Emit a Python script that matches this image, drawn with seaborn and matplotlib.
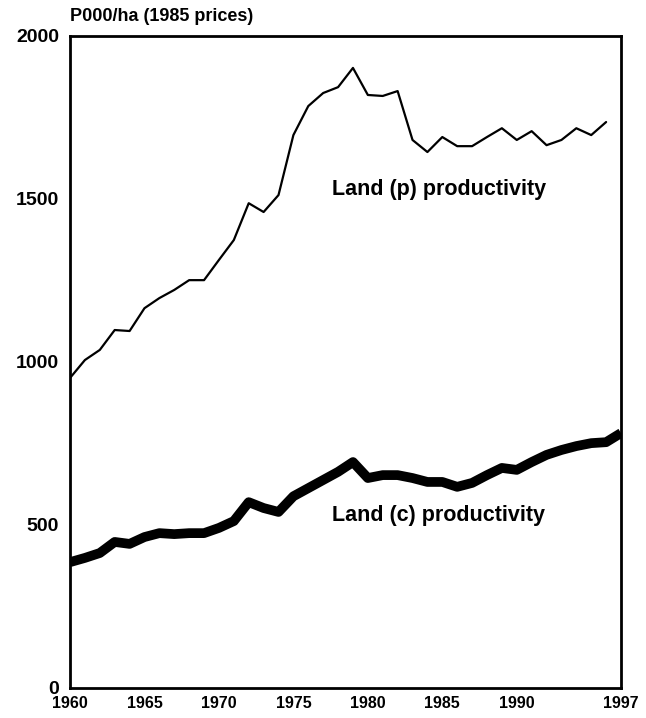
import pandas as pd
import seaborn as sns
import matplotlib.pyplot as plt

years = list(range(1960, 1998))

# land productivity, P000/ha at 1985 prices
land_p = [951, 1006, 1037, 1098, 1095, 1165, 1196, 1221, 1251, 1251,
          1313, 1374, 1487, 1460, 1512, 1696, 1785, 1825, 1843, 1902,
          1819, 1816, 1831, 1681, 1644, 1690, 1662, 1662, 1690, 1717,
          1681, 1708, 1665, 1681, 1717, 1696, 1736, None]
land_c = [386, 399, 414, 448, 442, 463, 475, 472, 475, 475,
          491, 512, 570, 552, 540, 588, 613, 638, 663, 693,
          644, 653, 653, 644, 632, 632, 617, 629, 653, 675,
          669, 693, 715, 730, 742, 751, 754, 782]

x_ticks = [1960, 1965, 1970, 1975, 1980, 1985, 1990, 1997]
y_ticks = [0, 500, 1000, 1500, 2000]

df = pd.DataFrame({'year': years, 'p': land_p, 'c': land_c})

sns.set_style('white')
plt.rcParams['font.family'] = ['Liberation Sans', 'DejaVu Sans']
plt.rcParams['font.weight'] = 'bold'
plt.rcParams['text.color'] = 'black'
plt.rcParams['xtick.color'] = 'black'
plt.rcParams['ytick.color'] = 'black'

fig = plt.figure(figsize=(6.46, 7.18), dpi=100)
ax = fig.add_axes([0.1084, 0.0418, 0.8529, 0.9081])

sns.lineplot(data=df, x='year', y='p', color='black', linewidth=1.6, ax=ax)
sns.lineplot(data=df, x='year', y='c', color='black', linewidth=7, ax=ax,
             solid_capstyle='butt')

ax.set_xlim(1960, 1997)
ax.set_ylim(0, 2000)
ax.set_xticks(x_ticks)
ax.set_xticks(years, minor=True)
ax.set_yticks(y_ticks)
ax.tick_params(axis='x', which='both', direction='in', length=8, width=1.8,
               labelsize=11.5, pad=6)
ax.tick_params(axis='y', direction='in', length=6, width=1.8, labelsize=14, pad=8)
ax.set_xlabel('')
ax.set_ylabel('')
for s in ax.spines.values():
    s.set_linewidth(2)
    s.set_color('black')

ax.text(0, 1.017, 'P000/ha (1985 prices)', transform=ax.transAxes,
        fontsize=13, fontweight='bold', ha='left', va='bottom')
ax.text(1977.6, 1512, 'Land (p) productivity', fontsize=15.5, fontweight='bold')
ax.text(1977.6, 512, 'Land (c) productivity', fontsize=15.5, fontweight='bold')

plt.savefig('out.png', dpi=100)
